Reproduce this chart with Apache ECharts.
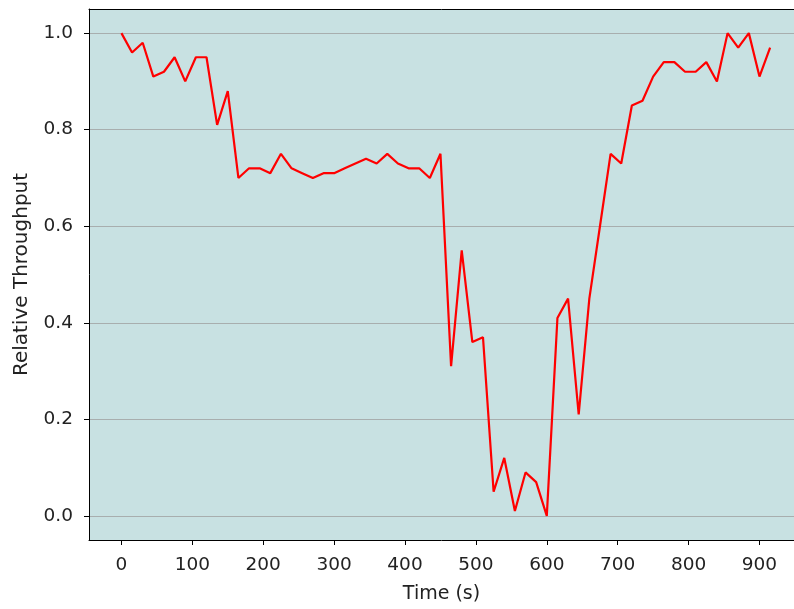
<!DOCTYPE html>
<html>
<head>
<meta charset="utf-8">
<script src="https://cdn.jsdelivr.net/npm/echarts@6/dist/echarts.min.js"></script>
<style>
html,body{margin:0;padding:0;background:#fff;}
#chart{width:794px;height:609px;}
</style>
</head>
<body>
<div id="chart"></div>
<script>
const times = [0,15,30,45,60,75,90,105,120,135,150,165,180,195,210,225,240,255,270,285,300,315,330,345,360,375,390,405,420,435,450,465,480,495,510,525,540,555,570,585,600,615,630,645,660,675,690,705,720,735,750,765,780,795,810,825,840,855,870,885,900,915];
const throughput = [1.00,0.96,0.98,0.91,0.92,0.95,0.90,0.95,0.95,0.81,0.88,0.70,0.72,0.72,0.71,0.75,0.72,0.71,0.70,0.71,0.71,0.72,0.73,0.74,0.73,0.75,0.73,0.72,0.72,0.70,0.75,0.31,0.55,0.36,0.37,0.05,0.12,0.01,0.09,0.07,0.00,0.41,0.45,0.21,0.45,0.60,0.75,0.73,0.85,0.86,0.91,0.94,0.94,0.92,0.92,0.94,0.90,1.00,0.97,1.00,0.91,0.97];
const xTicks = [0,100,200,300,400,500,600,700,800,900];
const yTicks = [0,0.2,0.4,0.6,0.8,1.0];

const font = 'DejaVu Sans';
const xMin = -45.75, xMax = 948.7;
const chart = echarts.init(document.getElementById('chart'), null, {renderer:'canvas'});
chart.setOption({
  animation:false,
  grid:{left:89, right:0, top:9, bottom:68, show:true, backgroundColor:'#c8e1e2', borderWidth:0},
  xAxis:[{
    type:'value', min:xMin, max:xMax,
    name:'Time (s)', nameLocation:'middle', nameGap:45,
    nameTextStyle:{fontFamily:font, fontSize:19, color:'#222'},
    axisLine:{show:true, onZero:false, lineStyle:{color:'#000', width:1}},
    axisTick:{show:true, length:5, lineStyle:{color:'#000'}, customValues:xTicks},
    axisLabel:{fontFamily:font, fontSize:18.5, color:'#222', margin:16, customValues:xTicks, formatter:v=>String(v)},
    splitLine:{show:false}
  },{
    type:'value', position:'top', min:xMin, max:xMax,
    axisLine:{show:true, onZero:false, lineStyle:{color:'#000', width:1}},
    axisTick:{show:false}, axisLabel:{show:false}, splitLine:{show:false}
  }],
  yAxis:{
    type:'value', min:-0.05, max:1.05,
    name:'Relative Throughput', nameLocation:'middle', nameGap:57, nameRotate:90,
    nameTextStyle:{fontFamily:font, fontSize:20, color:'#222'},
    axisLine:{show:true, onZero:false, lineStyle:{color:'#000', width:1}},
    axisTick:{show:true, length:5, lineStyle:{color:'#000'}, customValues:yTicks},
    axisLabel:{fontFamily:font, fontSize:18.5, color:'#222', margin:16, customValues:yTicks, formatter:v=>v.toFixed(1)},
    splitLine:{show:true, customValues:yTicks, lineStyle:{color:'#a8aeae', width:1.2}}
  },
  series:[{
    type:'line',
    xAxisIndex:0,
    data:times.map((t,i)=>[t, throughput[i]]),
    showSymbol:false,
    lineStyle:{color:'#ff0000', width:2.2},
    itemStyle:{color:'#ff0000'}
  }]
});
</script>
</body>
</html>
